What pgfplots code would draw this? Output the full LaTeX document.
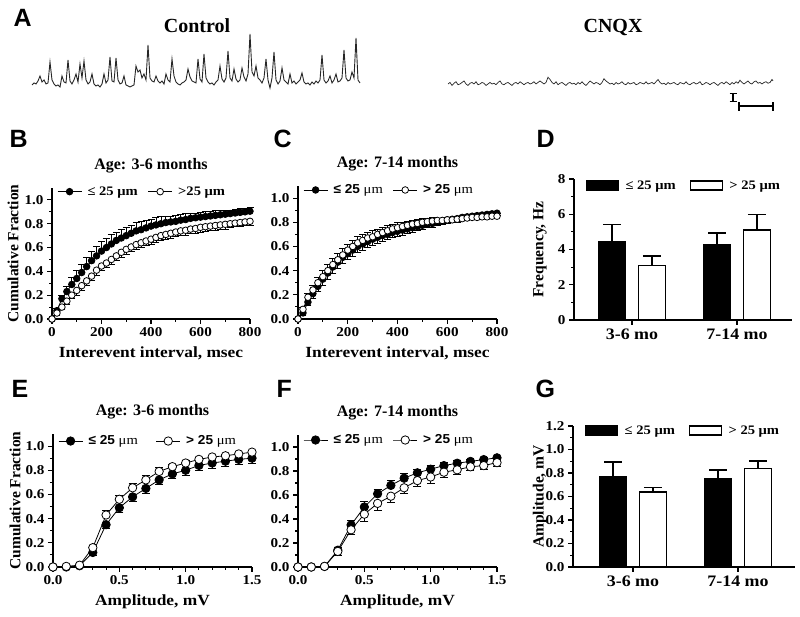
\documentclass[border=0pt]{standalone}
\usepackage{pgfplots}
\usepackage{pgfplotstable}
\pgfplotsset{compat=1.18}
\usepackage{fontspec}
\setmainfont{Liberation Serif}
\setsansfont{Liberation Sans}
\newfontfamily\wide{Liberation Serif}[FakeStretch=1.12]
\newfontfamily\widesans{Liberation Sans}[FakeStretch=1.05]
\newcommand{\fs}[1]{\fontsize{#1}{#1}\selectfont}

\pgfplotsset{
  panel/.style={
    scale only axis, clip=false, enlargelimits=false,
    axis lines=left, axis line style={-, line width=1.3pt},
    x axis line style={-}, y axis line style={-},
    tick align=outside, major tick length=5pt, minor tick length=3pt,
    every tick/.style={line width=1.1pt, black},
    /pgf/number format/assume math mode=true,
    tick label style={font=\wide\bfseries\fs{13.5}},
    title style={font=\bfseries\fs{16}, at={(0.5,1)}, anchor=base, yshift=12pt},
    xlabel style={font=\wide\bfseries\fs{15.5}, at={(0.5,0)}, anchor=base, yshift=-39pt},
    ylabel style={font=\bfseries\fs{15.5}, anchor=center},
    legend style={draw=none, fill=none, legend columns=2, font=\wide\bfseries\fs{13},
      /tikz/every even column/.append style={column sep=8pt}},
    legend cell align=left,
    legend image code/.code={\draw[mark repeat=2,mark phase=2,##1] plot coordinates {(0pt,0pt) (12pt,0pt) (24pt,0pt)};
      \path[draw=none, fill=none] (0pt,0pt) -- (28pt,0pt);},
  },
  blk/.style={black, line width=0.8pt, mark=*, mark options={fill=black, line width=0.8pt}},
  wht/.style={black, line width=0.8pt, mark=*, mark options={fill=white, line width=0.8pt}},
  barleg/.style={legend image code/.code={\draw[##1,/tikz/.cd,line width=1.3pt] (0pt,-4.5pt) rectangle (32pt,4.5pt);
      \path[draw=none, fill=none] (0pt,0pt) -- (37pt,0pt);}},
  ebl/.style={/pgfplots/error bars/error bar style={line width=0.8pt},
    /pgfplots/error bars/error mark options={rotate=90, mark size=3.5pt, line width=0.8pt}},
  ebs/.style={/pgfplots/error bars/error bar style={line width=0.8pt},
    /pgfplots/error bars/error mark options={rotate=90, mark size=4pt, line width=0.8pt}},
  ebb/.style={/pgfplots/error bars/error bar style={line width=1.5pt, black},
    /pgfplots/error bars/error mark options={rotate=90, mark size=9pt, line width=1.5pt, black}},
}

% ---------- Panel B data (Interevent interval, 3-6 months) ----------
\pgfplotstableread{
x y e
0 0.00 0.00
20 0.07 0.02
40 0.17 0.03
60 0.23 0.04
80 0.29 0.06
100 0.34 0.07
120 0.39 0.07
140 0.44 0.08
160 0.49 0.08
180 0.53 0.08
200 0.57 0.08
220 0.60 0.08
240 0.63 0.08
260 0.66 0.07
280 0.68 0.07
300 0.70 0.07
320 0.72 0.07
340 0.74 0.07
360 0.75 0.07
380 0.765 0.06
400 0.78 0.06
420 0.79 0.06
440 0.80 0.06
460 0.81 0.05
480 0.815 0.05
500 0.82 0.05
520 0.83 0.05
540 0.835 0.05
560 0.845 0.04
580 0.85 0.04
600 0.855 0.04
620 0.86 0.04
640 0.865 0.04
660 0.87 0.04
680 0.875 0.04
700 0.88 0.03
720 0.885 0.03
740 0.89 0.03
760 0.895 0.03
780 0.90 0.03
800 0.905 0.03
}\Bblack
\pgfplotstableread{
x y e
0 0.00 0.00
20 0.05 0.02
40 0.10 0.02
60 0.15 0.03
80 0.20 0.03
100 0.24 0.04
120 0.28 0.04
140 0.32 0.04
160 0.36 0.04
180 0.41 0.04
200 0.445 0.04
220 0.47 0.04
240 0.50 0.04
260 0.53 0.04
280 0.56 0.04
300 0.585 0.04
320 0.605 0.04
340 0.625 0.04
360 0.64 0.04
380 0.655 0.04
400 0.67 0.04
420 0.685 0.04
440 0.70 0.04
460 0.71 0.04
480 0.72 0.04
500 0.73 0.04
520 0.74 0.04
540 0.745 0.04
560 0.755 0.04
580 0.76 0.04
600 0.77 0.04
620 0.775 0.04
640 0.78 0.04
660 0.785 0.04
680 0.79 0.04
700 0.795 0.04
720 0.80 0.03
740 0.805 0.03
760 0.81 0.03
780 0.815 0.03
800 0.82 0.03
}\Bwhite
% ---------- Panel C data (Interevent interval, 7-14 months) ----------
\pgfplotstableread{
x y e
0 0.00 0.00
20 0.05 0.02
40 0.14 0.03
60 0.21 0.04
80 0.27 0.04
100 0.33 0.05
120 0.38 0.05
140 0.43 0.05
160 0.47 0.05
180 0.51 0.05
200 0.54 0.05
220 0.57 0.05
240 0.60 0.05
260 0.62 0.05
280 0.64 0.05
300 0.66 0.05
320 0.675 0.05
340 0.69 0.05
360 0.70 0.04
380 0.715 0.04
400 0.725 0.04
420 0.735 0.04
440 0.745 0.04
460 0.755 0.04
480 0.765 0.03
500 0.775 0.03
520 0.785 0.03
540 0.79 0.03
560 0.80 0.03
580 0.81 0.03
600 0.82 0.03
620 0.825 0.03
640 0.83 0.03
660 0.84 0.02
680 0.845 0.02
700 0.85 0.02
720 0.855 0.02
740 0.86 0.02
760 0.865 0.02
780 0.87 0.02
800 0.875 0.02
}\Cblack
\pgfplotstableread{
x y e
0 0.00 0.00
20 0.08 0.02
40 0.18 0.03
60 0.24 0.04
80 0.30 0.04
100 0.35 0.05
120 0.40 0.05
140 0.45 0.05
160 0.49 0.05
180 0.53 0.05
200 0.57 0.05
220 0.60 0.05
240 0.63 0.05
260 0.65 0.05
280 0.67 0.05
300 0.68 0.05
320 0.70 0.04
340 0.715 0.04
360 0.73 0.04
380 0.745 0.04
400 0.755 0.04
420 0.765 0.03
440 0.775 0.03
460 0.785 0.03
480 0.79 0.03
500 0.80 0.03
520 0.805 0.03
540 0.81 0.03
560 0.815 0.02
580 0.815 0.02
600 0.82 0.02
620 0.82 0.02
640 0.825 0.02
660 0.83 0.02
680 0.835 0.02
700 0.84 0.02
720 0.84 0.02
740 0.845 0.02
760 0.845 0.02
780 0.85 0.02
800 0.85 0.02
}\Cwhite
% ---------- Panel E data (Amplitude, 3-6 months) ----------
\pgfplotstableread{
x y e
0.0 0.00 0.00
0.1 0.00 0.00
0.2 0.01 0.01
0.3 0.12 0.02
0.4 0.35 0.03
0.5 0.49 0.04
0.6 0.58 0.035
0.7 0.65 0.04
0.8 0.72 0.04
0.9 0.77 0.04
1.0 0.80 0.04
1.1 0.84 0.045
1.2 0.86 0.045
1.3 0.875 0.045
1.4 0.89 0.045
1.5 0.90 0.045
}\Eblack
\pgfplotstableread{
x y e
0.0 0.00 0.00
0.1 0.005 0.00
0.2 0.015 0.01
0.3 0.16 0.02
0.4 0.43 0.04
0.5 0.56 0.03
0.6 0.655 0.04
0.7 0.72 0.04
0.8 0.79 0.03
0.9 0.83 0.02
1.0 0.86 0.02
1.1 0.89 0.02
1.2 0.91 0.015
1.3 0.92 0.015
1.4 0.935 0.01
1.5 0.95 0.01
}\Ewhite
% ---------- Panel F data (Amplitude, 7-14 months) ----------
\pgfplotstableread{
x y e
0.0 0.00 0.00
0.1 0.00 0.00
0.2 0.005 0.00
0.3 0.14 0.02
0.4 0.35 0.04
0.5 0.50 0.05
0.6 0.61 0.04
0.7 0.68 0.04
0.8 0.74 0.04
0.9 0.785 0.03
1.0 0.815 0.03
1.1 0.845 0.03
1.2 0.865 0.025
1.3 0.88 0.02
1.4 0.895 0.02
1.5 0.91 0.015
}\Fblack
\pgfplotstableread{
x y e
0.0 0.00 0.00
0.1 0.00 0.00
0.2 0.005 0.00
0.3 0.13 0.03
0.4 0.31 0.04
0.5 0.44 0.06
0.6 0.53 0.06
0.7 0.59 0.05
0.8 0.66 0.05
0.9 0.72 0.05
1.0 0.75 0.05
1.1 0.79 0.04
1.2 0.81 0.04
1.3 0.835 0.03
1.4 0.845 0.03
1.5 0.87 0.03
}\Fwhite

\begin{document}
\begin{tikzpicture}
\useasboundingbox (0,0) rectangle (800pt,617pt);

% ---------------- A: traces ----------------
\node[anchor=base west, font=\sffamily\bfseries\fs{25}] at (10pt,590pt) {A};
\node[anchor=base, font=\bfseries\fs{20}] at (197pt,584pt) {Control};
\node[anchor=base, font=\bfseries\fs{20}] at (613pt,584pt) {CNQX};

\begin{axis}[hide axis, scale only axis, clip=false, width=328pt, height=60pt,
  xmin=32, xmax=360, ymin=0, ymax=60, at={(32pt,531pt)}, anchor=south west]
\addplot[black!85, line width=0.9pt] coordinates {
(32,1)(34,3)(36,2)(38,5)(40,10)(42,4)(44,6)(46,2)(48,3)(50,24)(52,6)(54,2)(56,0)(58,1)(60,-1)(62,10)(64,4)(66,3)(68,26)(70,5)(72,2)(74,6)(76,12)(78,4)(80,22)(82,8)(84,25)(86,6)(88,2)(90,4)(92,12)(94,2)(96,0)(98,1)(100,-1)(102,2)(104,12)(106,3)(108,6)(110,29)(112,5)(114,4)(116,28)(118,6)(120,2)(122,3)(124,10)(126,1)(128,0)(130,-1)(132,0)(134,1)(136,20)(138,14)(140,16)(142,8)(144,12)(146,6)(148,41)(150,8)(152,5)(154,4)(156,10)(158,5)(160,3)(162,5)(164,2)(166,12)(168,6)(170,4)(172,27)(174,10)(176,4)(178,2)(180,1)(182,3)(184,4)(186,6)(188,17)(190,9)(192,5)(194,4)(196,3)(198,27)(200,7)(202,4)(204,32)(206,8)(208,4)(210,2)(212,3)(214,1)(216,4)(218,6)(220,20)(222,7)(224,4)(226,8)(228,35)(230,8)(232,5)(234,17)(236,7)(238,4)(240,6)(242,18)(244,9)(246,5)(248,12)(250,52)(252,14)(254,10)(256,20)(258,8)(260,6)(262,3)(264,8)(266,27)(268,6)(270,-2)(272,8)(274,34)(276,6)(278,2)(280,5)(282,18)(284,6)(286,4)(288,2)(290,12)(292,3)(294,5)(296,2)(298,4)(300,6)(302,13)(304,4)(306,2)(308,3)(310,1)(312,4)(314,2)(316,5)(318,3)(320,6)(322,31)(324,6)(326,3)(328,5)(330,10)(332,3)(334,6)(336,12)(338,4)(340,5)(342,8)(344,36)(346,8)(348,5)(350,6)(352,14)(354,8)(356,48)(358,6)(360,3)
};
\end{axis}

\begin{axis}[hide axis, scale only axis, clip=false, width=325pt, height=15pt,
  xmin=448, xmax=773, ymin=0, ymax=10, at={(448pt,533pt)}, anchor=south west]
\addplot[black!85, line width=0.7pt] coordinates {
(448,0)(450,1)(452,-1)(454,0.5)(456,1.5)(458,-0.5)(460,0)(462,1)(464,2)(466,0)(468,-1)(470,0.5)(472,1)(474,0)(476,1.5)(478,-0.5)(480,0)(482,1)(484,0.5)(486,-1)(488,0)(490,1)(492,0)(494,0.5)(496,-0.5)(498,1)(500,2)(502,0)(504,-0.5)(506,0.5)(508,1)(510,0)(512,-1)(514,0.5)(516,1)(518,0)(520,1.5)(522,0.5)(524,-0.5)(526,0.5)(528,1)(530,0)(532,0.5)(534,1.5)(536,0)(538,1)(540,2)(542,1)(544,0)(546,1)(548,4.5)(550,3)(552,1)(554,0)(556,1.5)(558,-0.5)(560,0.5)(562,1)(564,0)(566,-1)(568,0.5)(570,1)(572,0)(574,0.5)(576,-0.5)(578,1)(580,0)(582,1.5)(584,0)(586,-1)(588,0.5)(590,2)(592,1)(594,0)(596,1)(598,0.5)(600,-0.5)(602,1)(604,3.5)(606,2)(608,1)(610,0)(612,0.5)(614,-0.5)(616,1)(618,0)(620,0.5)(622,1.5)(624,0)(626,-0.5)(628,1)(630,0)(632,0.5)(634,1)(636,-0.5)(638,0)(640,1)(642,0.5)(644,0)(646,1.5)(648,0)(650,0.5)(652,1)(654,0)(656,1.5)(658,3)(660,1)(662,0)(664,0.5)(666,-0.5)(668,1)(670,0)(672,0.5)(674,1)(676,0)(678,-0.5)(680,1)(682,0.5)(684,0)(686,1.5)(688,0)(690,-0.5)(692,0.5)(694,1)(696,0)(698,0.5)(700,1.5)(702,-0.5)(704,0)(706,1)(708,0.5)(710,-0.5)(712,0.5)(714,1)(716,0)(718,-1)(720,0.5)(722,1)(724,0)(726,1.5)(728,0.5)(730,-0.5)(732,1)(734,0)(736,1.5)(738,0.5)(740,2.5)(742,1)(744,0)(746,1)(748,2)(750,0.5)(752,0)(754,1.5)(756,2)(758,0.5)(760,1)(762,0)(764,1)(766,1.5)(768,0.5)(770,1)(772,3)(773,2)
};
\end{axis}
% scale bars
\draw[line width=1.2pt] (733pt,523.5pt) -- (733pt,515.5pt);
\draw[line width=1.2pt] (729.5pt,523.5pt) -- (736.5pt,523.5pt);
\draw[line width=1.2pt] (729.5pt,515.5pt) -- (736.5pt,515.5pt);
\draw[line width=1.2pt] (739pt,511pt) -- (773pt,511pt);
\draw[line width=1.2pt] (739pt,514.5pt) -- (739pt,506pt);
\draw[line width=1.2pt] (773pt,514.5pt) -- (773pt,506pt);

% ---------------- panel letters ----------------
\node[anchor=base west, font=\sffamily\bfseries\fs{25}] at (6pt,469pt) {B};
\node[anchor=base west, font=\sffamily\bfseries\fs{25}] at (270pt,469pt) {C};
\node[anchor=base west, font=\sffamily\bfseries\fs{25}] at (533pt,469pt) {D};
\node[anchor=base west, font=\sffamily\bfseries\fs{25}] at (8pt,219pt) {E};
\node[anchor=base west, font=\sffamily\bfseries\fs{25}] at (273pt,219pt) {F};
\node[anchor=base west, font=\sffamily\bfseries\fs{25}] at (532pt,219pt) {G};

% ---------------- B ----------------
\begin{axis}[panel, width=198pt, height=131pt, at={(52pt,298pt)}, anchor=south west,
  xmin=0, xmax=800, ymin=0, ymax=1.1,
  xtick={0,200,400,600,800}, minor xtick={100,300,500,700},
  ytick={0,0.2,0.4,0.6,0.8,1.0}, minor ytick={0.1,0.3,0.5,0.7,0.9},
  yticklabel style={/pgf/number format/.cd, fixed, fixed zerofill, precision=1},
  title={Age: 3-6 months}, xlabel={Interevent interval, msec},
  ylabel={Cumulative Fraction}, ylabel style={font=\bfseries\fs{15.5}, at={(axis description cs:-0.197,0.5)}},
  legend style={at={(axis description cs:0.01,0.972)}, anchor=west}]
\addplot[blk, mark size=3.3pt, /pgfplots/ebl, error bars/.cd, y dir=plus, y explicit]
  table[x=x, y=y, y error=e] {\Bblack};
\addlegendentry{≤ 25 μm}
\addplot[wht, mark size=3.3pt, /pgfplots/ebl, error bars/.cd, y dir=minus, y explicit]
  table[x=x, y=y, y error=e] {\Bwhite};
\addlegendentry{>25 μm}
\end{axis}

% ---------------- C ----------------
\begin{axis}[panel, width=199pt, height=133pt, at={(298pt,298pt)}, anchor=south west,
  xmin=0, xmax=800, ymin=0, ymax=1.1,
  xtick={0,200,400,600,800}, minor xtick={100,300,500,700},
  ytick={0,0.2,0.4,0.6,0.8,1.0}, minor ytick={0.1,0.3,0.5,0.7,0.9},
  yticklabel style={/pgf/number format/.cd, fixed, fixed zerofill, precision=1},
  title={Age: 7-14 months}, xlabel={Interevent interval, msec},
  legend style={at={(axis description cs:0.01,0.97)}, anchor=west}]
\addplot[blk, mark size=3.3pt, /pgfplots/ebl, error bars/.cd, y dir=minus, y explicit]
  table[x=x, y=y, y error=e] {\Cblack};
\addlegendentry{{\widesans\bfseries ≤ 25} {\mdseries μm}}
\addplot[wht, mark size=3.3pt, /pgfplots/ebl, error bars/.cd, y dir=plus, y explicit]
  table[x=x, y=y, y error=e] {\Cwhite};
\addlegendentry{{\widesans\bfseries > 25} {\mdseries μm}}
\end{axis}

% ---------------- D ----------------
\begin{axis}[panel, width=218pt, height=141pt, at={(574pt,297pt)}, anchor=south west,
  xmin=-0.552, xmax=1.524, ymin=0, ymax=8,
  xtick={0,1}, xticklabels={3-6 mo, 7-14 mo},
  xticklabel style={font=\wide\bfseries\fs{16}},
  ytick={0,2,4,6,8}, minor ytick={1,3,5,7},
  ylabel={Frequency, Hz}, ylabel style={font=\bfseries\fs{15.5}, at={(axis description cs:-0.156,0.5)}},
  legend style={at={(axis description cs:0.04,0.954)}, anchor=west,
    /tikz/every even column/.append style={column sep=12pt}}]
\addplot[ybar, bar width=27pt, bar shift=0pt, fill=black, draw=black, line width=1.3pt, barleg,
  /pgfplots/ebb, error bars/.cd, y dir=plus, y explicit]
  coordinates {(-0.19,4.45) +- (0,0.98) (0.81,4.26) +- (0,0.68)};
\addlegendentry{≤ 25 μm}
\addplot[ybar, bar width=27pt, bar shift=0pt, fill=white, draw=black, line width=1.3pt, barleg,
  /pgfplots/ebb, error bars/.cd, y dir=plus, y explicit]
  coordinates {(0.19,3.10) +- (0,0.54) (1.19,5.11) +- (0,0.87)};
\addlegendentry{> 25 μm}
\end{axis}

% ---------------- E ----------------
\begin{axis}[panel, width=199pt, height=133pt, at={(53pt,50pt)}, anchor=south west,
  xmin=0, xmax=1.5, ymin=0, ymax=1.1,
  xtick={0,0.5,1.0,1.5}, minor xtick={0.1,0.2,0.3,0.4,0.6,0.7,0.8,0.9,1.1,1.2,1.3,1.4},
  xticklabel style={/pgf/number format/.cd, fixed, fixed zerofill, precision=1},
  ytick={0,0.2,0.4,0.6,0.8,1.0}, minor ytick={0.1,0.3,0.5,0.7,0.9},
  yticklabel style={/pgf/number format/.cd, fixed, fixed zerofill, precision=1},
  title={Age: 3-6 months}, xlabel={Amplitude, mV},
  ylabel={Cumulative Fraction}, ylabel style={font=\bfseries\fs{15.5}, at={(axis description cs:-0.191,0.5)}},
  legend style={at={(axis description cs:0.01,0.947)}, anchor=west,
    /tikz/every even column/.append style={column sep=16pt}}]
\addplot[blk, mark size=4.2pt, /pgfplots/ebs, error bars/.cd, y dir=minus, y explicit]
  table[x=x, y=y, y error=e] {\Eblack};
\addlegendentry{{\widesans\bfseries ≤ 25} {\mdseries μm}}
\addplot[wht, mark size=4.2pt, /pgfplots/ebs, error bars/.cd, y dir=plus, y explicit]
  table[x=x, y=y, y error=e] {\Ewhite};
\addlegendentry{{\widesans\bfseries > 25} {\mdseries μm}}
\end{axis}

% ---------------- F ----------------
\begin{axis}[panel, width=199pt, height=132pt, at={(298pt,50pt)}, anchor=south west,
  xmin=0, xmax=1.5, ymin=0, ymax=1.1,
  xtick={0,0.5,1.0,1.5}, minor xtick={0.1,0.2,0.3,0.4,0.6,0.7,0.8,0.9,1.1,1.2,1.3,1.4},
  xticklabel style={/pgf/number format/.cd, fixed, fixed zerofill, precision=1},
  ytick={0,0.2,0.4,0.6,0.8,1.0}, minor ytick={0.1,0.3,0.5,0.7,0.9},
  yticklabel style={/pgf/number format/.cd, fixed, fixed zerofill, precision=1},
  title={Age: 7-14 months}, xlabel={Amplitude, mV},
  legend style={at={(axis description cs:0.01,0.962)}, anchor=west}]
\addplot[blk, mark size=4.2pt, /pgfplots/ebs, error bars/.cd, y dir=plus, y explicit]
  table[x=x, y=y, y error=e] {\Fblack};
\addlegendentry{{\widesans\bfseries ≤ 25} {\mdseries μm}}
\addplot[wht, mark size=4.2pt, /pgfplots/ebs, error bars/.cd, y dir=minus, y explicit]
  table[x=x, y=y, y error=e] {\Fwhite};
\addlegendentry{{\widesans\bfseries > 25} {\mdseries μm}}
\end{axis}

% ---------------- G ----------------
\begin{axis}[panel, width=222pt, height=141pt, at={(573pt,50pt)}, anchor=south west,
  xmin=-0.571, xmax=1.543, ymin=0, ymax=1.2,
  xtick={0,1}, xticklabels={3-6 mo, 7-14 mo},
  xticklabel style={font=\wide\bfseries\fs{16}},
  ytick={0,0.2,0.4,0.6,0.8,1.0,1.2}, minor ytick={0.1,0.3,0.5,0.7,0.9,1.1},
  yticklabel style={/pgf/number format/.cd, fixed, fixed zerofill, precision=1},
  ylabel={Amplitude, mV}, ylabel style={font=\bfseries\fs{15.5}, at={(axis description cs:-0.149,0.5)}},
  legend style={at={(axis description cs:0.04,0.968)}, anchor=west,
    /tikz/every even column/.append style={column sep=12pt}}]
\addplot[ybar, bar width=27pt, bar shift=0pt, fill=black, draw=black, line width=1.3pt, barleg,
  /pgfplots/ebb, error bars/.cd, y dir=plus, y explicit]
  coordinates {(-0.19,0.771) +- (0,0.121) (0.81,0.751) +- (0,0.073)};
\addlegendentry{≤ 25 μm}
\addplot[ybar, bar width=27pt, bar shift=0pt, fill=white, draw=black, line width=1.3pt, barleg,
  /pgfplots/ebb, error bars/.cd, y dir=plus, y explicit]
  coordinates {(0.19,0.638) +- (0,0.040) (1.19,0.838) +- (0,0.065)};
\addlegendentry{> 25 μm}
\end{axis}
\end{tikzpicture}
\end{document}
